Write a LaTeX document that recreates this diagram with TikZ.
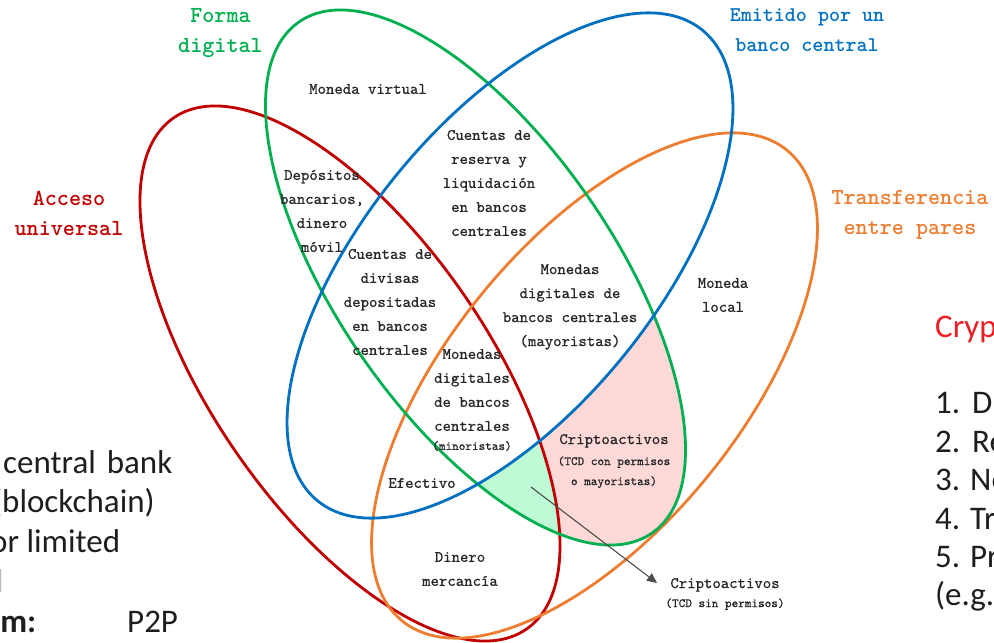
\documentclass[tikz,border=0pt]{standalone}
\usepackage{fontspec}
\newfontfamily\slidefont{Carlito}
\newfontfamily\regionfont{lmmono10-regular.otf}[FakeBold=0.8]
\usetikzlibrary{arrows.meta}
\definecolor{vred}{RGB}{192,0,0}
\definecolor{vgreen}{RGB}{0,176,80}
\definecolor{vblue}{RGB}{0,112,192}
\definecolor{vorange}{RGB}{237,125,49}
\definecolor{pinkfill}{RGB}{255,216,216}
\definecolor{mintfill}{RGB}{190,250,214}
\definecolor{slidered}{RGB}{235,30,35}
\definecolor{slidetext}{RGB}{30,30,30}
\newcommand{\subnote}{\fontsize{12.6}{14}\selectfont}
\begin{document}
\begin{tikzpicture}[x=1pt,y=-1pt,
  setline/.style={line width=2.8pt},
  region/.style={font=\regionfont\fontsize{16}{24}\selectfont, text=black!85, align=center, inner sep=0pt},
  setlabel/.style={font=\ttfamily\bfseries\fontsize{23}{30}\selectfont, align=center, inner sep=0pt},
  slide/.style={font=\slidefont\fontsize{33}{39.5}\selectfont, anchor=base west, inner sep=0pt, text=slidetext},
  arrowline/.style={draw=black!70, line width=1.1pt, -{Triangle[length=10pt,width=9pt]}}
]
\useasboundingbox (0,0) rectangle (994,643);
\clip (0,0) rectangle (994,643);

% shaded regions
\begin{scope}
  \clip[rotate around={-55.4:(475.5,277.5)}] (475.5,277.5) ellipse [x radius=310.6, y radius=138.5];
  \clip[rotate around={50.7:(594.5,385.5)}] (594.5,385.5) ellipse [x radius=304, y radius=145.2];
  \fill[pinkfill, even odd rule] (0,0) rectangle (994,643)
    [rotate around={50.7:(510,265.5)}] (510,265.5) ellipse [x radius=304, y radius=145.2];
  \clip[rotate around={-55.4:(350,373.5)}] (350,373.5) ellipse [x radius=310.6, y radius=138.5];
  \fill[mintfill, even odd rule] (0,0) rectangle (994,643)
    [rotate around={50.7:(510,265.5)}] (510,265.5) ellipse [x radius=304, y radius=145.2];
\end{scope}

% the four sets
\draw[setline, vred, rotate around={-55.4:(350,373.5)}] (350,373.5) ellipse [x radius=310.6, y radius=138.5];
\draw[setline, vorange, rotate around={50.7:(594.5,385.5)}] (594.5,385.5) ellipse [x radius=304, y radius=145.2];
\draw[setline, vgreen, rotate around={-55.4:(475.5,277.5)}] (475.5,277.5) ellipse [x radius=310.6, y radius=138.5];
\draw[setline, vblue, rotate around={50.7:(510,265.5)}] (510,265.5) ellipse [x radius=304, y radius=145.2];

% set labels
\node[setlabel, text=vgreen] (lblforma) at (220.5,33) {Forma\\digital};
\node[setlabel, text=vblue, font=\ttfamily\bfseries\fontsize{21}{30}\selectfont] (lblemit) at (807,30) {Emitido por un\\banco central};
\node[setlabel, text=vred] (lblacc) at (69,213) {Acceso\\universal};
\node[setlabel, text=vorange] (lbltrans) at (910,215) {Transferencia\\entre pares};

% region texts
\node[region] (mv) at (368,89) {Moneda virtual};
\node[region] (crl) at (489,183) {Cuentas de\\reserva y\\liquidación\\en bancos\\centrales};
\node[region] (dep) at (322,211) {Depósitos\\bancarios,\\dinero\\móvil};
\node[region] (cdd) at (390,302) {Cuentas de\\divisas\\depositadas\\en bancos\\centrales};
\node[region] (cbdcw) at (570,307) {Monedas\\digitales de\\bancos centrales\\(mayoristas)};
\node[region] (ml) at (723,295) {Moneda\\local};
\node[region] (cbdcr) at (472,400) {Monedas\\digitales\\de bancos\\centrales\\[-5pt]{\subnote(minoristas)}};
\node[region] (cperm) at (614,461) {Criptoactivos\\[-3pt]{\subnote(TCD con permisos}\\[-4pt]{\subnote o mayoristas)}};
\node[region] (efe) at (422,483) {Efectivo};
\node[region] (dm) at (460,569) {Dinero\\mercancía};
\node[region] (csin) at (725,594) {Criptoactivos\\[-5pt]{\subnote(TCD sin permisos)}};

\coordinate (tcdfrom) at (531,487);
\coordinate (tcdto) at (657,583);
\draw[arrowline] (tcdfrom) -- (tcdto);

% slide text around the diagram
\node[slide] (lt1) at (3,473) {central\hspace{11pt}bank};
\node[slide] (lt2) at (-8,512) {(blockchain)};
\node[slide] (lt3) at (-10,552) {or limited};
\node[slide, text=gray!55] (lt4) at (-4,592) {l};
\node[slide, font=\slidefont\bfseries\fontsize{33}{39.5}\selectfont] (lt5) at (-13,632) {sm:};
\node[slide] (lt6) at (127,632) {P2P};

\node[slide, text=slidered] (rt0) at (935,337) {Cryp};
\node[slide] (rt1) at (935,413) {1.\hspace{12pt}Di};
\node[slide] (rt2) at (935,452) {2.\hspace{12pt}Re};
\node[slide] (rt3) at (935,490) {3. No};
\node[slide] (rt4) at (935,529) {4. Tra};
\node[slide] (rt5) at (935,567) {5. Pri};
\node[slide] (rt6) at (935,605) {(e.g.};
\end{tikzpicture}
\end{document}
